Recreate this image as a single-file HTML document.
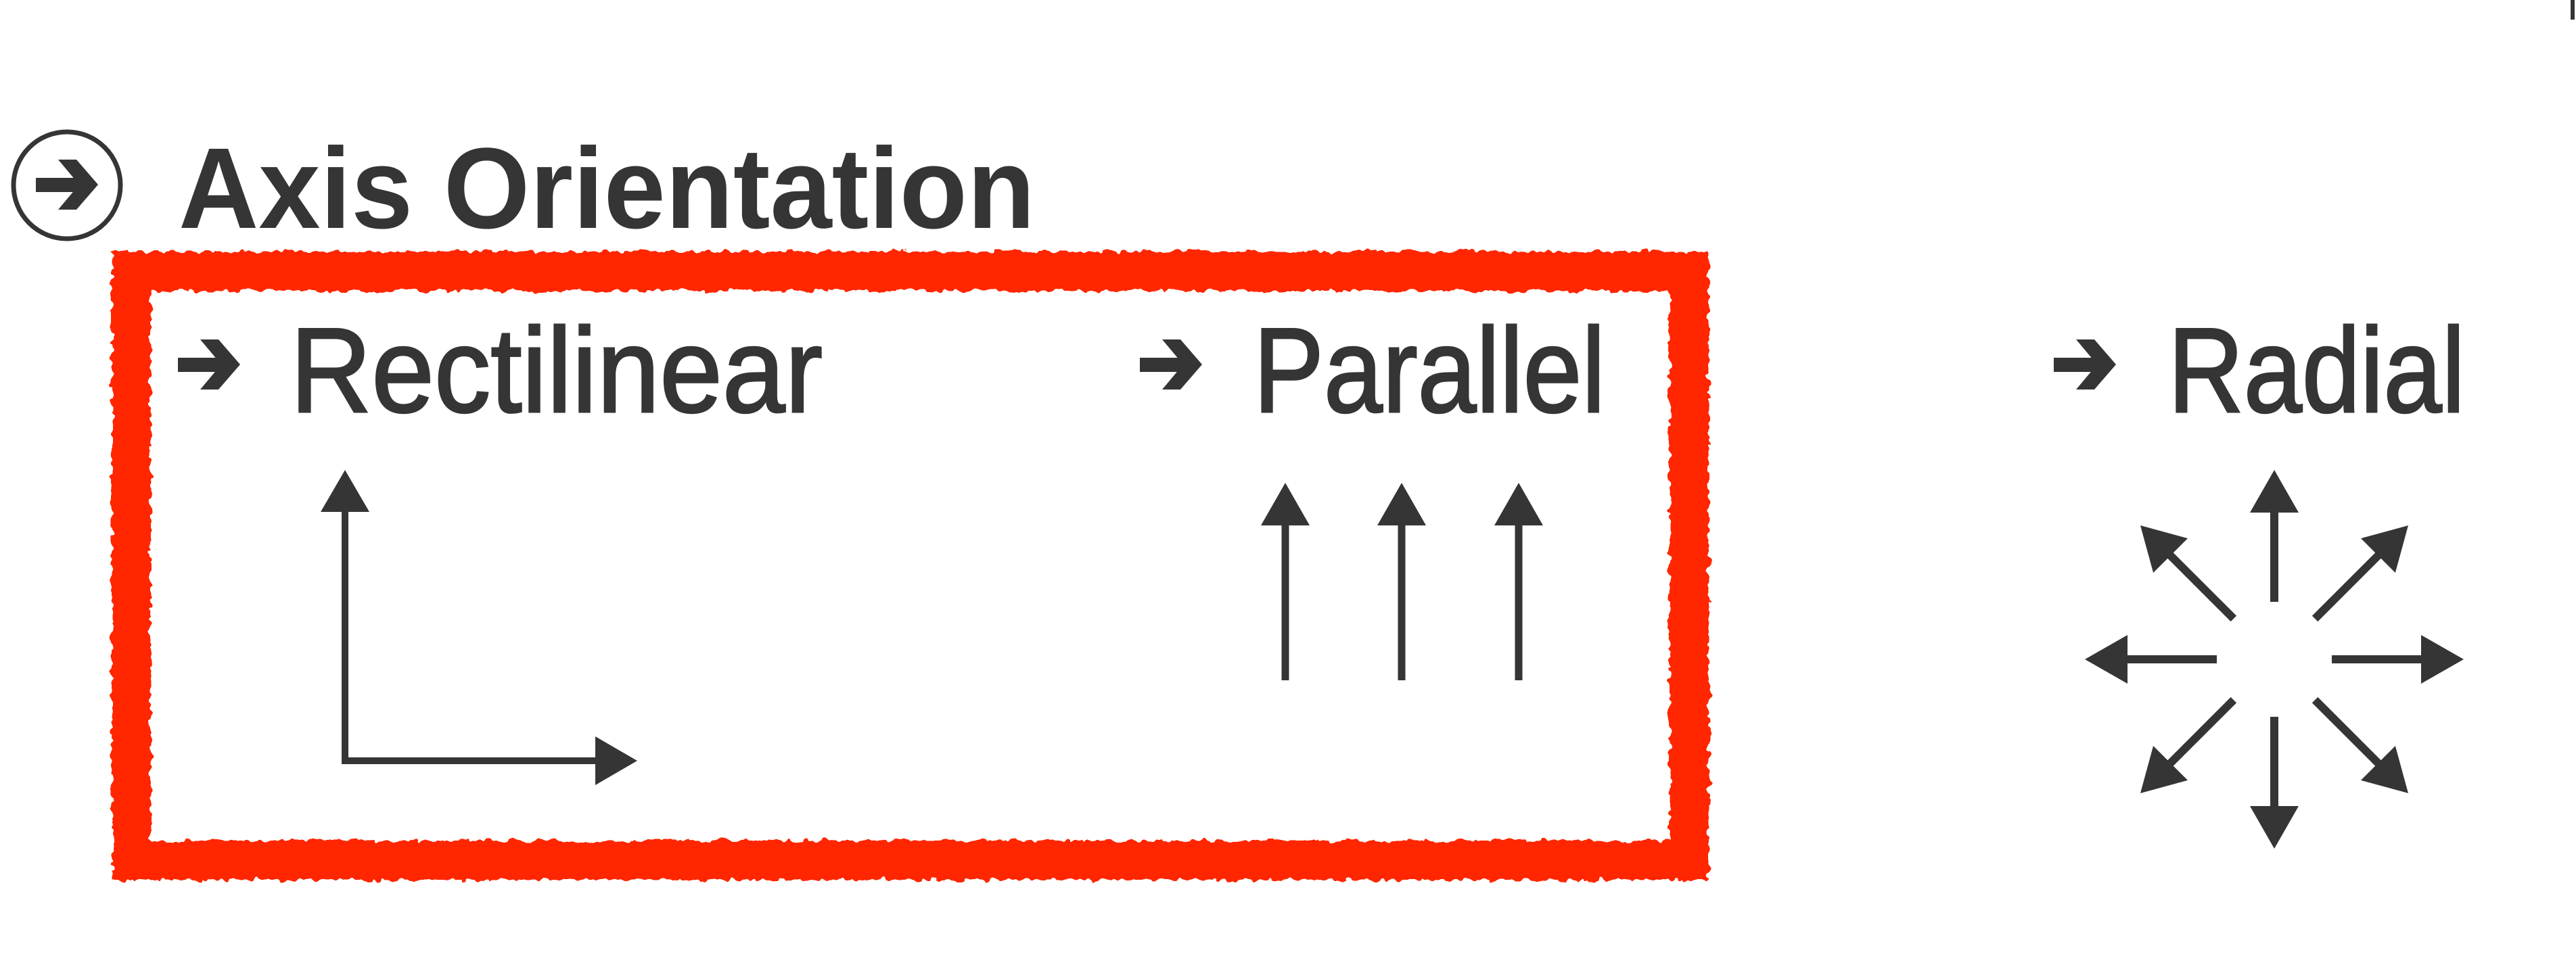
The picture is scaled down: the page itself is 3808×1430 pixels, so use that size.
<!DOCTYPE html>
<html><head><meta charset="utf-8"><style>
html,body{margin:0;padding:0;background:#fff;}
svg{display:block;}
text{font-family:"Liberation Sans",sans-serif;fill:#353535;}
.lbl{stroke:#353535;stroke-width:3;}
</style></head><body>
<svg width="3808" height="1430" viewBox="0 0 3808 1430" xmlns="http://www.w3.org/2000/svg">
<defs>
<filter id="rough" x="-5%" y="-5%" width="110%" height="110%">
<feTurbulence type="fractalNoise" baseFrequency="0.08" numOctaves="2" seed="3" result="n"/>
<feDisplacementMap in="SourceGraphic" in2="n" scale="14" xChannelSelector="R" yChannelSelector="G"/>
</filter>
<g id="rarr">
<line x1="0" y1="-85" x2="0" y2="-220" stroke="#353535" stroke-width="12"/>
<polygon points="0,-280 -36,-217 36,-217" fill="#353535"/>
</g>
<g id="garr">
<rect x="0" y="27" width="70" height="21" fill="#353535"/>
<polygon points="33,0 60,0 92,37 60,74 33,74 64,37" fill="#353535"/>
</g>
</defs>
<rect x="3800" y="0" width="6" height="29" fill="#353535"/>
<circle cx="99" cy="274" r="79" fill="none" stroke="#353535" stroke-width="7"/>
<use href="#garr" transform="translate(53,236)"/>
<text x="264" y="337" font-size="170" font-weight="bold" textLength="1266" lengthAdjust="spacingAndGlyphs">Axis Orientation</text>
<rect x="194" y="401" width="2303" height="871" fill="none" stroke="#ff2600" stroke-width="58" filter="url(#rough)"/>
<use href="#garr" transform="translate(263,502)"/>
<text class="lbl" x="429" y="609" font-size="178" textLength="787" lengthAdjust="spacingAndGlyphs">Rectilinear</text>
<line x1="510" y1="750" x2="510" y2="1129" stroke="#353535" stroke-width="10"/>
<polygon points="510,695 474,757 546,757" fill="#353535"/>
<line x1="505" y1="1125" x2="885" y2="1125" stroke="#353535" stroke-width="10"/>
<polygon points="942,1125 880,1089 880,1161" fill="#353535"/>
<use href="#garr" transform="translate(1685,502)"/>
<text class="lbl" x="1853" y="609" font-size="178" textLength="520" lengthAdjust="spacingAndGlyphs">Parallel</text>
<g fill="#353535" stroke="#353535">
<line x1="1900" y1="770" x2="1900" y2="1006" stroke-width="11"/>
<polygon points="1900,714 1864,777 1936,777" stroke="none"/>
<line x1="2072" y1="770" x2="2072" y2="1006" stroke-width="11"/>
<polygon points="2072,714 2036,777 2108,777" stroke="none"/>
<line x1="2245" y1="770" x2="2245" y2="1006" stroke-width="11"/>
<polygon points="2245,714 2209,777 2281,777" stroke="none"/>
</g>
<use href="#garr" transform="translate(3036,502)"/>
<text class="lbl" x="3205" y="609" font-size="178" textLength="439" lengthAdjust="spacingAndGlyphs">Radial</text>
<g transform="translate(3362,975)">
<use href="#rarr" transform="rotate(0)"/>
<use href="#rarr" transform="rotate(45)"/>
<use href="#rarr" transform="rotate(90)"/>
<use href="#rarr" transform="rotate(135)"/>
<use href="#rarr" transform="rotate(180)"/>
<use href="#rarr" transform="rotate(225)"/>
<use href="#rarr" transform="rotate(270)"/>
<use href="#rarr" transform="rotate(315)"/>
</g>
</svg>
</body></html>
